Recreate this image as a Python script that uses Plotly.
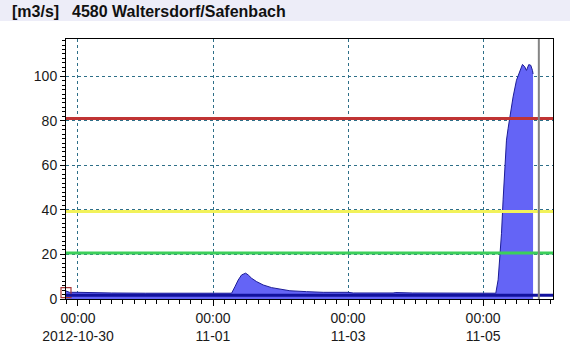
import plotly.graph_objects as go

# ---- data ----
times = [
    "2012-10-29 19:45", "2012-10-29 20:30", "2012-10-29 21:00", "2012-10-30 00:00",
    "2012-10-30 03:30", "2012-10-30 04:00", "2012-10-30 06:00", "2012-10-30 12:00",
    "2012-10-31 00:00", "2012-10-31 12:00", "2012-11-01 00:00", "2012-11-01 06:36",
    "2012-11-01 07:47", "2012-11-01 08:57", "2012-11-01 10:09", "2012-11-01 11:35",
    "2012-11-01 12:30", "2012-11-01 13:43", "2012-11-01 15:29", "2012-11-01 17:50",
    "2012-11-01 20:50", "2012-11-01 23:45", "2012-11-02 03:19", "2012-11-02 09:15",
    "2012-11-02 15:09", "2012-11-03 00:00", "2012-11-03 01:50", "2012-11-03 16:00",
    "2012-11-03 17:00", "2012-11-03 23:00", "2012-11-04 12:00", "2012-11-05 04:30",
    "2012-11-05 05:20", "2012-11-05 05:56", "2012-11-05 06:32", "2012-11-05 07:06",
    "2012-11-05 07:42", "2012-11-05 08:18", "2012-11-05 08:53", "2012-11-05 09:29",
    "2012-11-05 10:05", "2012-11-05 10:39", "2012-11-05 11:51", "2012-11-05 13:01",
    "2012-11-05 13:59", "2012-11-05 14:48", "2012-11-05 15:24", "2012-11-05 16:13",
    "2012-11-05 16:56", "2012-11-05 17:32", "2012-11-05 17:45",
]
discharge = [
    3.6, 3.4, 3.0, 3.0,
    3.0, 2.8, 2.7, 2.7,
    2.6, 2.6, 2.6, 2.6,
    5.5, 8.5, 10.8, 11.6,
    10.8, 9.3, 7.8, 6.3,
    5.1, 4.4, 3.7, 3.3,
    3.0, 3.0, 2.7, 2.7,
    2.9, 2.7, 2.6, 2.6,
    8.6, 17.6, 29.5, 44.5,
    59.4, 71.3, 76.6, 81.8,
    86.3, 90.7, 98.2, 102.6,
    105.3, 104.2, 102.6, 105.2,
    104.9, 102.6, 101.0,
]

threshold_values = [20.7, 39.3, 81.0]
threshold_colors = ["#3ccf5a", "#f2f25a", "#c03434"]
mean_flow = 1.7
now_time = "2012-11-05 19:48"
marker_time = ["2012-10-29 19:45"]
marker_value = [2.9]

tick_vals = ["2012-10-30 00:00", "2012-11-01 00:00", "2012-11-03 00:00", "2012-11-05 00:00"]
tick_text = ["00:00<br>2012-10-30", "00:00<br>11-01", "00:00<br>11-03", "00:00<br>11-05"]
x_range = ["2012-10-29 19:45", "2012-11-06 00:50"]
y_range = [0, 116.7]

title_unit = "[m3/s]"
title_station = "4580 Waltersdorf/Safenbach"

# ---- figure ----
fig = go.Figure()
fig.add_trace(go.Scatter(
    x=times, y=discharge, mode="lines", fill="tozeroy",
    fillcolor="#6464f6", line=dict(color="#1c1c96", width=1), hoverinfo="skip",
))
fig.add_trace(go.Scatter(
    x=marker_time, y=marker_value, mode="markers", cliponaxis=False,
    marker=dict(symbol="square-open", size=10, color="#a83a3a", line=dict(width=1.2)),
))

for v, c in zip(threshold_values, threshold_colors):
    fig.add_hline(y=v, line=dict(color=c, width=3), layer="above")
fig.add_hline(y=mean_flow, line=dict(color="#12129e", width=3), layer="above")
fig.add_vline(x=now_time, line=dict(color="#858585", width=2), layer="above")

L, R, T, B = 66, 17, 39, 47
W, H = 570, 346
ph = H - T - B
pw = W - L - R

# header band
fig.add_shape(type="rect", xref="paper", yref="paper",
              x0=-L / pw, x1=1 + R / pw, y0=1 + (T - 21) / ph, y1=1 + T / ph,
              fillcolor="#ededf8", line=dict(width=0), layer="below")

font_title = dict(family="Liberation Sans, Arial, sans-serif", size=16, color="#111111")
fig.add_annotation(text="<b>" + title_unit + "</b>", xref="paper", yref="paper",
                   x=(10 - L) / pw, y=1 + (T - 12) / ph, xanchor="left", yanchor="middle",
                   showarrow=False, font=font_title)
fig.add_annotation(text="<b>" + title_station + "</b>", xref="paper", yref="paper",
                   x=(70 - L) / pw, y=1 + (T - 12) / ph, xanchor="left", yanchor="middle",
                   showarrow=False, font=font_title)

grid = dict(showgrid=True, gridcolor="#2e6f88", griddash="3px,3px", gridwidth=1)
fig.update_layout(
    width=W, height=H, margin=dict(l=L, r=R, t=T, b=B, autoexpand=False),
    paper_bgcolor="white", plot_bgcolor="white", showlegend=False,
    font=dict(family="Liberation Sans, Arial, sans-serif", size=14, color="#1a1a1a"),
    xaxis=dict(range=x_range, tickvals=tick_vals, ticktext=tick_text, automargin=False,
               ticks="outside", ticklen=6, tickcolor="black",
               showline=True, linecolor="black", linewidth=1, mirror=True,
               minor=dict(dtick=4 * 3600 * 1000, ticks="outside", ticklen=4,
                          tickcolor="black", showgrid=False),
               zeroline=False, **grid),
    yaxis=dict(range=y_range, dtick=20, tick0=0, automargin=False,
               ticks="outside", ticklen=5, tickcolor="black",
               showline=True, linecolor="black", linewidth=1, mirror=True,
               minor=dict(dtick=2, ticks="outside", ticklen=3,
                          tickcolor="black", showgrid=False),
               zeroline=False, **grid),
)

fig.write_html("out.html")
